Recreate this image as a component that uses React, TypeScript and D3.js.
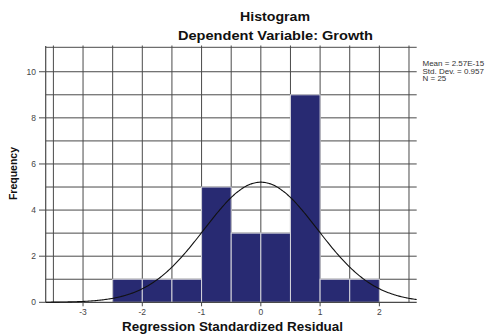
import React from "react";
import * as d3 from "d3";

const binStarts = [-2.5, -2.0, -1.5, -1.0, -0.5, 0.0, 0.5, 1.0, 1.5];
const binWidth = 0.5;
const frequencies = [1, 1, 1, 5, 3, 3, 9, 1, 1];
const xTicks = [-3, -2, -1, 0, 1, 2];
const yTicks = [0, 2, 4, 6, 8, 10];
const statMean = 2.57e-15;
const statSD = 0.957;
const statN = 25;
const statLines = ["Mean = 2.57E-15", "Std. Dev. = 0.957", "N = 25"];

const W = 498;
const H = 335;

export default function App() {
  const x = d3.scaleLinear().domain([-3.63, 2.63]).range([45.7, 416.7]);
  const y = d3.scaleLinear().domain([0, 11.06]).range([302.3, 47.3]);

  const vGrid = d3.range(-3.5, 2.51, 0.5);
  const hGrid = d3.range(1, 11, 1);

  const curvePts = d3.range(-3.63, 2.6301, 0.02).map((v) => {
    const z = (v - statMean) / statSD;
    const dens = Math.exp(-0.5 * z * z) / (statSD * Math.sqrt(2 * Math.PI));
    return [v, dens * statN * binWidth] as [number, number];
  });
  const line = d3
    .line<[number, number]>()
    .x((d) => x(d[0]))
    .y((d) => y(d[1]))
    .curve(d3.curveBasis);

  const font = "'Liberation Sans', Arial, sans-serif";
  const gridColor = "#4a4a4a";

  return (
    <svg width={W} height={H} style={{ position: "absolute", left: 0, top: 0 }}>
      <rect x={0} y={0} width={W} height={H} fill="#fff" />
      {/* grid */}
      {vGrid.map((v, i) => (
        <line key={"v" + i} x1={x(v)} x2={x(v)} y1={45.5} y2={y(0)} stroke={gridColor} strokeWidth={1} />
      ))}
      {hGrid.map((v, i) => (
        <line key={"h" + i} x1={x.range()[0]} x2={x.range()[1]} y1={y(v)} y2={y(v)} stroke={gridColor} strokeWidth={1} />
      ))}
      <line x1={x.range()[0]} x2={x.range()[1]} y1={y(11.06)} y2={y(11.06)} stroke={gridColor} strokeWidth={1} />
      {/* bars */}
      {binStarts.map((b, i) => (
        <rect
          key={"b" + i}
          x={x(b)}
          y={y(frequencies[i])}
          width={x(b + binWidth) - x(b)}
          height={y(0) - y(frequencies[i])}
          fill="#282a72"
          stroke="#d4d4dc"
          strokeWidth={1}
        />
      ))}
      {/* axes */}
      <line x1={x.range()[0]} x2={x.range()[0]} y1={46} y2={y(0)} stroke={gridColor} strokeWidth={1.2} />
      <line x1={x.range()[0]} x2={x.range()[1]} y1={y(0)} y2={y(0)} stroke={gridColor} strokeWidth={1.2} />
      {yTicks.map((t) => (
        <g key={"yt" + t}>
          <line x1={39} x2={x.range()[0]} y1={y(t)} y2={y(t)} stroke={gridColor} strokeWidth={1} />
          <text x={36} y={y(t) + 3} textAnchor="end" fontSize={8.5} fill="#444" fontFamily={font}>
            {t}
          </text>
        </g>
      ))}
      {xTicks.map((t) => (
        <g key={"xt" + t}>
          <line x1={x(t)} x2={x(t)} y1={y(0)} y2={y(0) + 4} stroke={gridColor} strokeWidth={1} />
          <text x={x(t)} y={y(0) + 13} textAnchor="middle" fontSize={8.5} fill="#444" fontFamily={font}>
            {t}
          </text>
        </g>
      ))}
      {/* normal curve */}
      <path d={line(curvePts) || ""} fill="none" stroke="#111" strokeWidth={1.1} />
      {/* titles */}
      <text x={240} y={21} fontSize={12} fontWeight="bold" fill="#111" fontFamily={font} textLength={70} lengthAdjust="spacingAndGlyphs">
        Histogram
      </text>
      <text x={178} y={40} fontSize={12} fontWeight="bold" fill="#111" fontFamily={font} textLength={195} lengthAdjust="spacingAndGlyphs">
        Dependent Variable: Growth
      </text>
      <text x={122} y={331} fontSize={12} fontWeight="bold" fill="#111" fontFamily={font} textLength={221} lengthAdjust="spacingAndGlyphs">
        Regression Standardized Residual
      </text>
      <text
        transform={`translate(16.5,173.5) rotate(-90)`}
        textAnchor="middle"
        fontSize={10.5}
        fontWeight="bold"
        fill="#111"
        fontFamily={font}
      >
        Frequency
      </text>
      {statLines.map((s, i) => (
        <text key={"s" + i} x={422.5} y={66 + i * 7.5} fontSize={8} fill="#333" fontFamily={font}>
          {s}
        </text>
      ))}
    </svg>
  );
}
